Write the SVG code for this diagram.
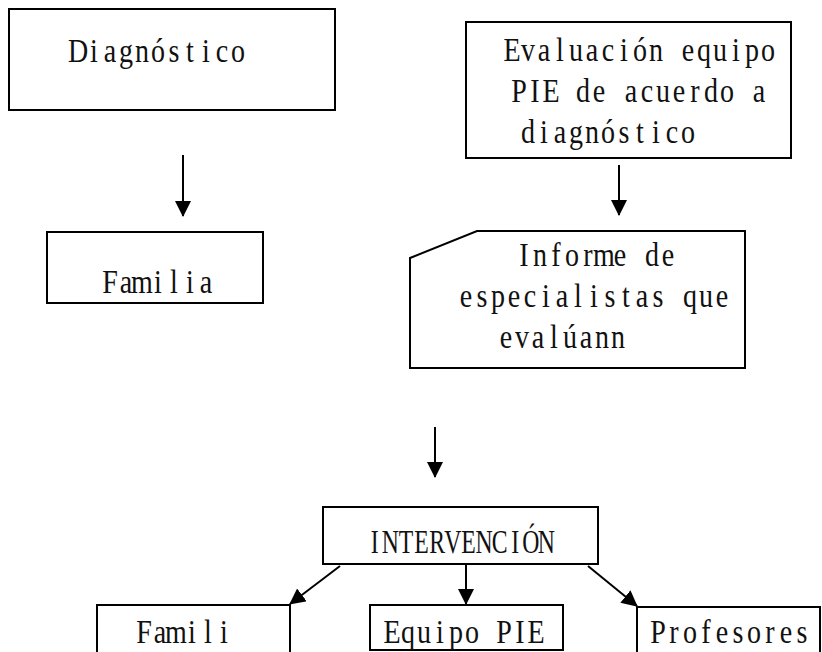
<svg xmlns="http://www.w3.org/2000/svg" width="822" height="652" viewBox="0 0 822 652">
<style>
.box{fill:#fff;stroke:#000;stroke-width:2}
.t{font-family:"Liberation Serif","DejaVu Serif",serif;font-size:33px;fill:#111;text-anchor:middle}
.c{stroke:#000;stroke-width:2;fill:none;marker-end:url(#ah)}
</style>
<defs>
<marker id="ah" markerUnits="userSpaceOnUse" markerWidth="16" markerHeight="16" viewBox="0 0 16 16" refX="15" refY="8" orient="auto">
<path d="M0,0 L16,8 L0,16 z" fill="#000"/>
</marker>
</defs>
<rect width="822" height="652" fill="#fff"/>
<g id="diagnostico">
<rect class="box" x="9" y="9" width="326" height="101"/>
<text class="t" transform="translate(70,62) scale(0.85,1)" x="9.41 28.24 47.06 65.88 84.71 103.53 122.35 141.18 160 178.82 197.65" y="0">Diagnóstico</text>
</g>
<g id="evaluacion">
<rect class="box" x="466" y="22" width="325" height="136"/>
<text class="t" transform="translate(504,61) scale(0.85,1)" x="9.41 28.24 47.06 65.88 84.71 103.53 122.35 141.18 160 178.82 197.65 216.47 235.29 254.12 272.94 291.76 310.59" y="0">Evaluación equipo</text>
<text class="t" transform="translate(511,102) scale(0.85,1)" x="9.41 28.24 47.06 65.88 84.71 103.53 122.35 141.18 160 178.82 197.65 216.47 235.29 254.12 272.94 291.76" y="0">PIE de acuerdo a</text>
<text class="t" transform="translate(520,143) scale(0.85,1)" x="9.41 28.24 47.06 65.88 84.71 103.53 122.35 141.18 160 178.82 197.65" y="0">diagnóstico</text>
</g>
<g id="familia">
<rect class="box" x="47" y="232" width="216" height="71"/>
<text class="t" transform="translate(102,293) scale(0.85,1)" x="9.41 28.24 47.06 65.88 84.71 103.53 122.35" y="0">Familia</text>
</g>
<g id="informe">
<path class="box" d="M410,258 L477,231 L745,231 L745,368 L410,368 Z"/>
<text class="t" transform="translate(516,266) scale(0.85,1)" x="9.41 28.24 47.06 65.88 84.71 103.53 122.35 141.18 160 178.82" y="0">Informe de</text>
<text class="t" transform="translate(458,307) scale(0.85,1)" x="9.41 28.24 47.06 65.88 84.71 103.53 122.35 141.18 160 178.82 197.65 216.47 235.29 254.12 272.94 291.76 310.59" y="0">especialistas que</text>
<text class="t" transform="translate(498,348) scale(0.85,1)" x="9.41 28.24 47.06 65.88 84.71 103.53 122.35 141.18" y="0">evalúann</text>
</g>
<g id="intervencion">
<rect class="box" x="323" y="507" width="275" height="57"/>
<text class="t" transform="translate(367,553) scale(0.72,1)" x="10.83 32.5 54.17 75.83 97.5 119.17 140.83 162.5 184.17 205.83 227.5 249.17" y="0">INTERVENCIÓN</text>
</g>
<g id="famili">
<rect class="box" x="97" y="605" width="193" height="60"/>
<text class="t" transform="translate(136,643) scale(0.85,1)" x="9.41 28.24 47.06 65.88 84.71 103.53" y="0">Famili</text>
</g>
<g id="equipo">
<rect class="box" x="370" y="605" width="193" height="45"/>
<text class="t" transform="translate(384,643) scale(0.85,1)" x="9.41 28.24 47.06 65.88 84.71 103.53 122.35 141.18 160 178.82" y="0">Equipo PIE</text>
</g>
<g id="profesores">
<rect class="box" x="637" y="607" width="183" height="60"/>
<text class="t" transform="translate(650,643) scale(0.85,1)" x="9.41 28.24 47.06 65.88 84.71 103.53 122.35 141.18 160 178.82" y="0">Profesores</text>
</g>
<g id="connectors">
<line class="c" x1="183" y1="155" x2="183" y2="216"/>
<line class="c" x1="619" y1="165" x2="619" y2="215"/>
<line class="c" x1="435" y1="427" x2="435" y2="477"/>
<line class="c" x1="466" y1="565" x2="466" y2="604"/>
<line class="c" x1="340" y1="566" x2="290" y2="604"/>
<line class="c" x1="588" y1="566" x2="637" y2="606"/>
</g>
</svg>
